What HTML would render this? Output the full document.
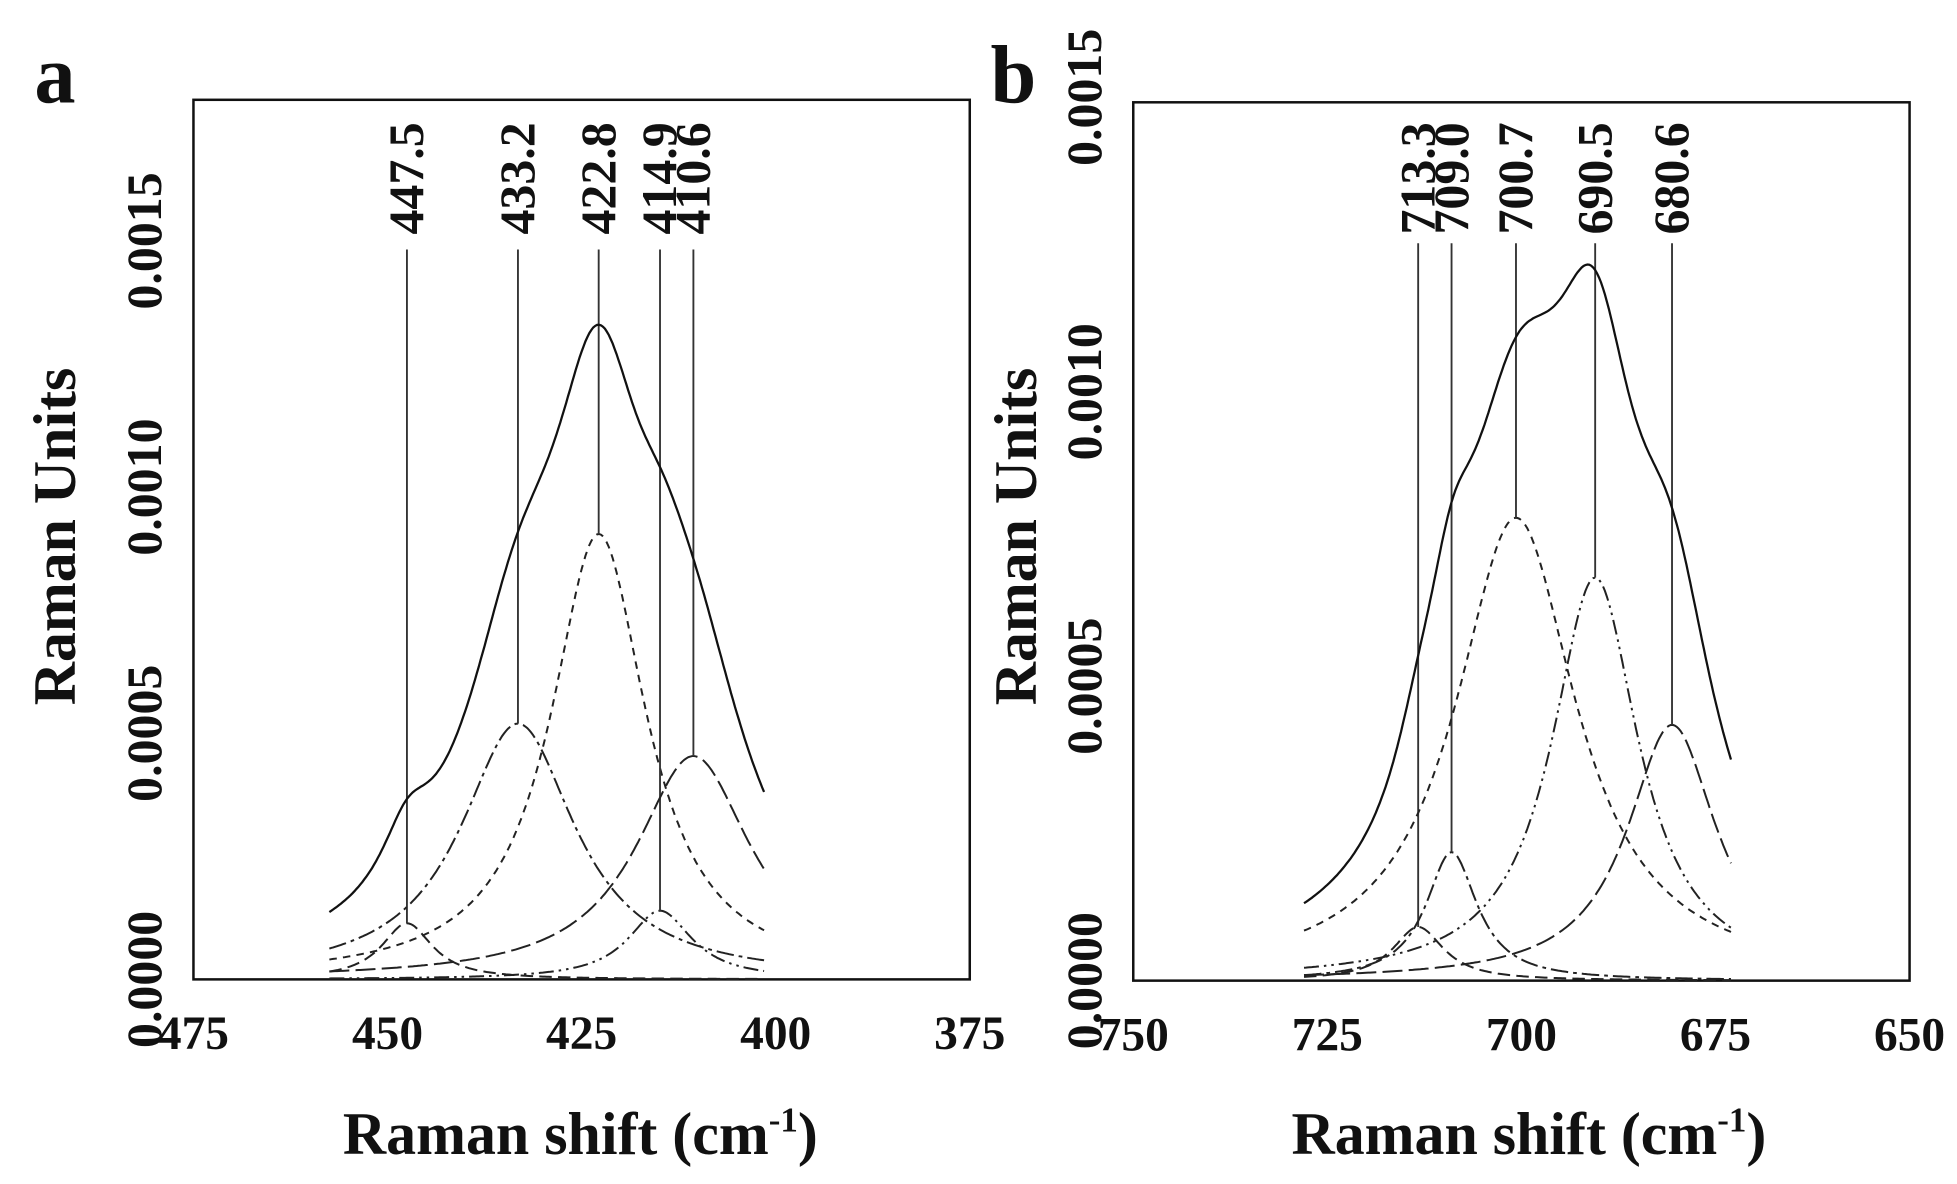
<!DOCTYPE html>
<html><head><meta charset="utf-8"><style>
html,body{margin:0;padding:0;background:#fff}
svg{display:block}
text{font-family:"Liberation Serif",serif;font-weight:bold;fill:#111}
</style></head><body>
<svg id="s" width="1957" height="1184" viewBox="0 0 1568 949" preserveAspectRatio="none" xmlns="http://www.w3.org/2000/svg">
<rect width="1568" height="949" fill="#fff"/>
<g stroke="#111" stroke-width="2" fill="none">
<rect x="155" y="80" width="622" height="705"/>
<rect x="908" y="82" width="622" height="704"/>
</g>
<text x="44" y="82" font-size="66" text-anchor="middle">a</text>
<text x="812" y="82" font-size="66" text-anchor="middle">b</text>
<text transform="translate(60,430) rotate(-90)" font-size="48" text-anchor="middle">Raman Units</text>
<text transform="translate(830,430) rotate(-90)" font-size="48" text-anchor="middle">Raman Units</text>
<text x="465" y="925" font-size="48" text-anchor="middle">Raman shift (cm<tspan font-size="28" dy="-18">-1</tspan><tspan dy="18">)</tspan></text>
<text x="1225" y="925" font-size="48" text-anchor="middle">Raman shift (cm<tspan font-size="28" dy="-18">-1</tspan><tspan dy="18">)</tspan></text>
<g id="g"></g>
</svg>
<script>
var g=document.getElementById('g'),NS='http://www.w3.org/2000/svg';
function el(t,a,txt){var e=document.createElementNS(NS,t);for(var k in a)e.setAttribute(k,a[k]);if(txt)e.textContent=txt;g.appendChild(e);return e;}
function panel(P){
  var X=function(v){return P.x0+(v-P.v0)*P.sx;},Y=function(v){return P.y0-v*P.sy;};
  P.xt.forEach(function(v){el('text',{x:X(v),y:P.y0+56,'font-size':38,'text-anchor':'middle'},String(v));});
  P.yt.forEach(function(v){el('text',{transform:'translate('+(P.x0-26)+','+Y(v)+') rotate(-90)','font-size':40,'text-anchor':'middle'},v.toFixed(4));});
  var dashes=['10,5','14,4,3,4','6,5','12,4,2,4,2,4','16,5'];
  var comps=P.c;
  function f(c,x){return c.h/(1+Math.pow((x-c.p)/c.w,2));}
  comps.forEach(function(c,i){
    var d='';for(var x=P.a;x>=P.b-0.001;x-=0.25){d+=(d?'L':'M')+X(x).toFixed(1)+','+(P.y0-f(c,x)).toFixed(1);}
    el('path',{d:d,fill:'none',stroke:'#222','stroke-width':1.6,'stroke-dasharray':dashes[i%5]});
    el('line',{x1:X(c.p),x2:X(c.p),y1:P.ly,y2:P.y0-c.h,stroke:'#333','stroke-width':1.5});
    el('text',{transform:'translate('+(X(c.p)+13)+','+P.ty+') rotate(-90)','font-size':40,'text-anchor':'start'},c.p.toFixed(1));
  });
  var d='';for(var x=P.a;x>=P.b-0.001;x-=0.25){var s=P.base||0;comps.forEach(function(c){s+=f(c,x);});d+=(d?'L':'M')+X(x).toFixed(1)+','+(P.y0-s).toFixed(1);}
  el('path',{d:d,fill:'none',stroke:'#111','stroke-width':1.8});
}
panel({x0:155,v0:475,sx:-6.22,y0:785,sy:394600,xt:[475,450,425,400,375],yt:[0,0.0005,0.001,0.0015],
 a:457.5,b:401.5,ly:200,ty:188,
 c:[{p:447.5,h:45,w:4},{p:433.2,h:205,w:9},{p:422.8,h:357,w:7.5},{p:414.9,h:55,w:5},{p:410.6,h:179,w:9}]});
panel({x0:908,v0:750,sx:-6.22,y0:786,sy:472000,xt:[750,725,700,675,650],yt:[0,0.0005,0.001,0.0015],
 a:728,b:673,ly:195,ty:188,
 c:[{p:713.3,h:43,w:4},{p:709.0,h:103,w:4},{p:700.7,h:371,w:9.5},{p:690.5,h:323,w:6.8},{p:680.6,h:205,w:7}]});
</script>
</body></html>
